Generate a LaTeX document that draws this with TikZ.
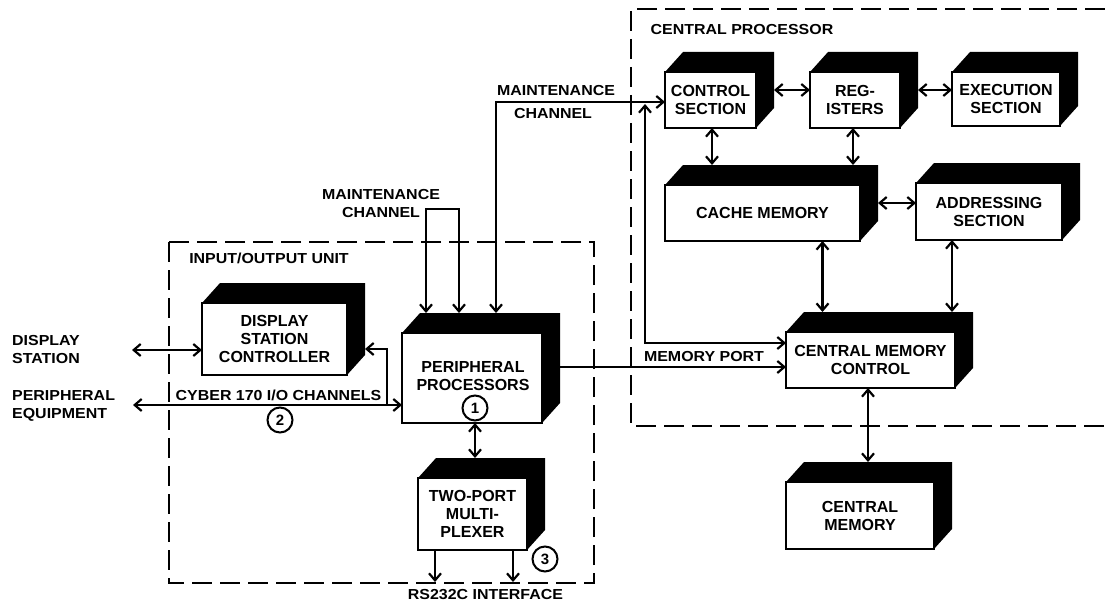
\documentclass[tikz,border=0pt]{standalone}
\usepackage{fontspec}
\setmainfont{Liberation Sans}
\newfontfamily\lblfont{Liberation Sans}[FakeStretch=1.1]
\usetikzlibrary{arrows.meta,calc}

\newcommand\cpblock[6]{%
  \node[blockbox, minimum width=#4pt, minimum height=#5pt] (#1) at (#2,#3) {#6};
  \fill[black] (#1.north west) -- ($(#1.north west)+(18,-20)$) -- ($(#1.north east)+(18,-20)$)
     -- ($(#1.south east)+(18,-20)$) -- (#1.south east) -- (#1.north east) -- cycle;
  \coordinate (#1-top) at ($(#1.north)+(0,-20)$);
  \coordinate (#1-rt) at ($(#1.east)+(18,0)$);
}

\begin{document}
\begin{tikzpicture}[x=1pt,y=-1pt,
  >={Straight Barb[length=7pt,width=12pt]},
  conn/.style={line width=2.2pt},
  dashbox/.style={line width=2.5pt, dash pattern=on 20pt off 8pt},
  blockbox/.style={draw, line width=2pt, fill=white, inner sep=0pt, outer sep=0pt,
     align=center, font=\fontsize{16}{18}\selectfont\bfseries},
  boxtext/.style={inner sep=0pt, align=center, font=\fontsize{16}{18}\selectfont\bfseries},
  lbl/.style={inner sep=0pt, align=center, font=\lblfont\fontsize{14.5}{18}\selectfont\bfseries},
  num/.style={circle, draw, line width=2pt, minimum size=25pt, inner sep=0pt,
     font=\fontsize{15}{15}\selectfont\bfseries}]
\useasboundingbox (0,0) rectangle (1105,607);
\fill[white] (0,0) rectangle (1105,607);

% dashed enclosures
\draw[dashbox] (169,242) rectangle (594,583);
\draw[dashbox] (1105,9) -- (631,9) -- (631,426) -- (1105,426);

% blocks
\cpblock{ctrl}{710.5}{100}{91}{56}{CONTROL\\SECTION}
\cpblock{reg}{855}{100}{90}{56}{REG-\\ISTERS}
\cpblock{exec}{1006}{99}{108}{54}{EXECUTION\\SECTION}
\cpblock{cache}{762.5}{213}{195}{56}{CACHE MEMORY}
\cpblock{addr}{989}{211.5}{146}{57}{ADDRESSING\\SECTION}
\cpblock{cmc}{870.5}{360}{169}{56}{CENTRAL MEMORY\\CONTROL}
\cpblock{cm}{860}{515.5}{148}{67}{CENTRAL\\MEMORY}
\cpblock{dsc}{274.5}{339}{145}{72}{DISPLAY\\STATION\\CONTROLLER}
\cpblock{pp}{472}{378}{140}{90}{}
\cpblock{tpm}{472.5}{514}{109}{72}{TWO-PORT\\MULTI-\\PLEXER}
\node[boxtext] (pptext) at (473,376) {PERIPHERAL\\PROCESSORS};

% numbered circles
\node[num] (n1) at (475,408) {1};
\node[num] (n2) at (280,420) {2};
\node[num] (n3) at (545,559) {3};

% connectors in the central processor
\coordinate (k1) at ($(ctrl-rt)+(0,-10)$);
\draw[conn,<->] (k1) -- (k1 -| reg.west);
\coordinate (k2) at ($(reg-rt)+(0,-10)$);
\draw[conn,<->] (k2) -- (k2 -| exec.west);
\coordinate (k3) at ($(ctrl.south)+(1.5,0)$);
\draw[conn,<->] (k3) -- (k3 |- cache-top);
\coordinate (k4) at ($(reg.south)+(-2,0)$);
\draw[conn,<->] (k4) -- (k4 |- cache-top);
\coordinate (k5) at ($(cache-rt)+(0,-10)$);
\draw[conn,<->] (k5) -- (k5 -| addr.west);
\coordinate (k6) at ($(cache.south)+(60,0)$);
\draw[conn,<->] (k6) -- (k6 |- cmc-top);
\coordinate (k7) at ($(addr.south)+(-37,0)$);
\draw[conn,<->] (k7) -- (k7 |- cmc-top);
\coordinate (k8) at ($(cmc.south)+(-2.5,0)$);
\draw[conn,<->] (k8) -- (k8 |- cm-top);

% memory port
\coordinate (k9) at ($(pp-rt)+(0,-11)$);
\draw[conn,->] (k9) -- (k9 -| cmc.west);

% maintenance channels
\coordinate (mtop) at ($(pp-top)+(24,0)$);
\coordinate (mright) at ($(ctrl.west)+(0,2)$);
\draw[conn,<->] (mtop) |- (mright);
\coordinate (mj) at (645,104);
\coordinate (mp) at ($(cmc.west)+(0,-17)$);
\draw[conn,<->] (mj) |- (mp);
\coordinate (ml) at ($(pp-top)+(-46,0)$);
\coordinate (mr) at ($(pp-top)+(-13,0)$);
\coordinate (mtopy) at (0,209);
\draw[conn,<->] (ml) -- (ml |- mtopy) -- (mr |- mtopy) -- (mr);

% input/output connections
\coordinate (ds) at (132,350);
\draw[conn,<->] (ds) -- (ds -| dsc.west);
\coordinate (pe) at (133,405);
\draw[conn,<->] (pe) -- (pe -| pp.west);
\coordinate (br) at (387,405);
\coordinate (dsr) at ($(dsc-rt)+(0,10)$);
\draw[conn,->] (br) |- (dsr);
\coordinate (k16) at ($(pp.south)+(3,0)$);
\draw[conn,<->] (k16) -- (k16 |- tpm-top);
\coordinate (rs1) at (435,582);
\coordinate (rs2) at (513,582);
\draw[conn,->] (rs1 |- tpm.south) -- (rs1);
\draw[conn,->] (rs2 |- tpm.south) -- (rs2);

% labels
\node[lbl] (cplab) at (742,30) {CENTRAL PROCESSOR};
\node[lbl] (iolab) at (269,258) {INPUT/OUTPUT UNIT};
\node[lbl] (mc1a) at (556,91) {MAINTENANCE};
\node[lbl] (mc1b) at (553,114) {CHANNEL};
\node[lbl] (mc2) at (381,204) {MAINTENANCE\\CHANNEL};
\node[lbl, align=left, anchor=west] (dslab) at (12,350) {DISPLAY\\STATION};
\node[lbl, align=left, anchor=west] (pelab) at (12,406) {PERIPHERAL\\EQUIPMENT};
\node[lbl] (cyb) at (278.5,395) {CYBER 170 I/O CHANNELS};
\node[lbl] (mport) at (704,357) {MEMORY PORT};
\node[lbl] (rs) at (485.5,595) {RS232C INTERFACE};
\end{tikzpicture}
\end{document}
